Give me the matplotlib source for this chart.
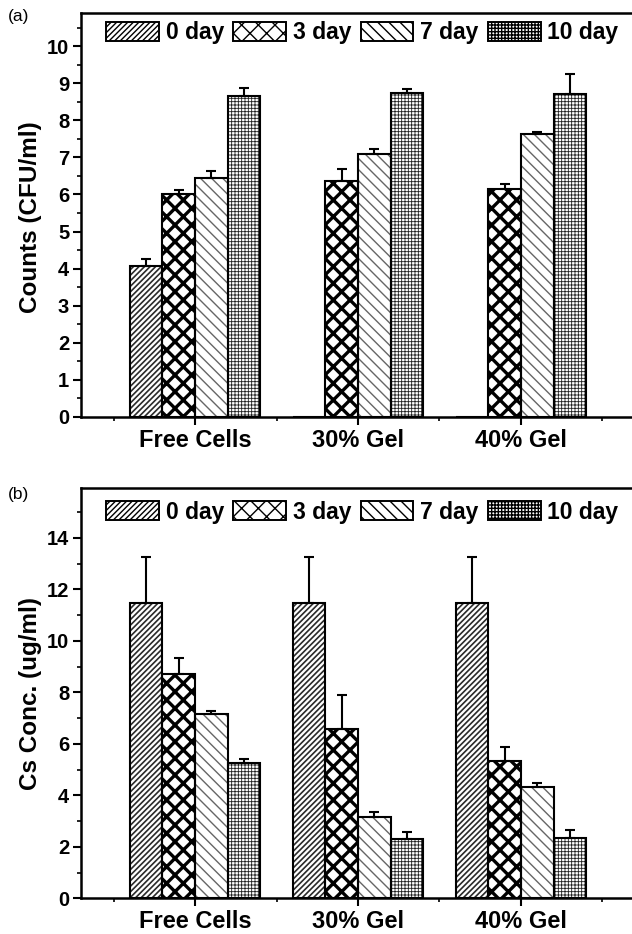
import numpy as np
import matplotlib
matplotlib.use("Agg")
import matplotlib.pyplot as plt
from matplotlib.ticker import MultipleLocator, FixedLocator
from matplotlib.patches import Rectangle

plt.rcParams['font.family'] = ['Liberation Sans', 'DejaVu Sans']

categories = ["Free Cells", "30% Gel", "40% Gel"]
series = ["0 day", "3 day", "7 day", "10 day"]

# Panel (a): Counts (CFU/ml)
counts_0 = [4.08, 0.0, 0.0]
counts_3 = [6.01, 6.37, 6.15]
counts_7 = [6.44, 7.09, 7.62]
counts_10 = [8.67, 8.75, 8.70]
counts_err_0 = [0.17, 0.0, 0.0]
counts_err_3 = [0.12, 0.32, 0.12]
counts_err_7 = [0.19, 0.14, 0.06]
counts_err_10 = [0.21, 0.11, 0.56]

# Panel (b): Cs Conc. (ug/ml)
cs_0 = [11.46, 11.46, 11.46]
cs_3 = [8.71, 6.59, 5.34]
cs_7 = [7.17, 3.17, 4.31]
cs_10 = [5.27, 2.29, 2.34]
cs_err_0 = [1.78, 1.78, 1.78]
cs_err_3 = [0.62, 1.31, 0.55]
cs_err_7 = [0.10, 0.18, 0.18]
cs_err_10 = [0.14, 0.30, 0.30]

hatches = ['//////', 'xx', '\\\\\\', '+++++']
hatch_colors = ['#2a2a2a', '#000000', '#666666', '#222222']
hatch_lw = [1.2, 2.4, 1.0, 0.6]

W, H = 632, 934
fig = plt.figure(figsize=(W / 100, H / 100), dpi=100)


def hatched_rect(i):
    with plt.rc_context({'hatch.linewidth': hatch_lw[i], 'hatch.color': hatch_colors[i]}):
        r = Rectangle((0, 0), 1, 1, facecolor='white', edgecolor='black',
                      hatch=hatches[i], linewidth=1.4)
        try:
            r.set_hatch_linewidth(hatch_lw[i])
        except Exception:
            pass
        try:
            r.set_hatchcolor(hatch_colors[i])
        except Exception:
            pass
    return r


def make_panel(rect, vals, errs, ylim, major, minor, ylabel, label, label_y, ylabel_y, leg_y):
    ax = fig.add_axes(rect)
    x = np.arange(len(categories))
    bw = 0.2
    offsets = [-0.3, -0.1, 0.1, 0.3]
    for i in range(4):
        h = np.array(vals[i], dtype=float)
        e = np.array(errs[i], dtype=float)
        with plt.rc_context({'hatch.linewidth': hatch_lw[i], 'hatch.color': hatch_colors[i]}):
            bars = ax.bar(x + offsets[i], h, bw, color='white', edgecolor=hatch_colors[i],
                          hatch=hatches[i], linewidth=0, zorder=2)
            for b in bars:
                try:
                    b.set_hatch_linewidth(hatch_lw[i])
                except Exception:
                    pass
        ax.bar(x + offsets[i], h, bw, color='none', edgecolor='black', linewidth=1.5, zorder=3)
        mask = h > 0
        ax.errorbar((x + offsets[i])[mask], h[mask], yerr=[np.zeros(mask.sum()), e[mask]],
                    fmt='none', ecolor='black', elinewidth=1.5, capsize=3.5, capthick=1.5, zorder=4)
    ax.set_xlim(-0.7, 2.7)
    ax.set_ylim(*ylim)
    ax.yaxis.set_major_locator(MultipleLocator(major))
    ax.yaxis.set_minor_locator(MultipleLocator(minor))
    ax.xaxis.set_major_locator(FixedLocator(x))
    ax.xaxis.set_minor_locator(FixedLocator([-0.5, 0.5, 1.5, 2.5]))
    ax.set_xticklabels(categories, fontsize=17, fontweight='bold')
    for t in ax.get_yticklabels():
        t.set_fontsize(14.5)
        t.set_fontweight('bold')
    ax.tick_params(axis='both', which='major', length=6, width=1.5, direction='out', pad=2.5)
    ax.tick_params(axis='both', which='minor', length=3, width=1.2, direction='out')
    ax.tick_params(top=False, right=False, which='both')
    for s in ax.spines.values():
        s.set_linewidth(1.8)
    fig.text(30 / W, 1 - ylabel_y / H, ylabel, fontsize=17.5, fontweight='bold',
             rotation=90, ha='center', va='center')
    handles = [hatched_rect(i) for i in range(4)]
    fig.legend(handles, series, loc='center left', bbox_to_anchor=(104 / W, 1 - leg_y / H),
               bbox_transform=fig.transFigure, ncol=4, frameon=False,
               prop={'weight': 'bold', 'size': 16.5},
               handlelength=2.3, handleheight=0.9, handletextpad=0.3,
               columnspacing=0.4, borderpad=0.1, borderaxespad=0)
    fig.text(8 / W, 1 - label_y / H, label, fontsize=12.5, ha='left', va='center')
    return ax


ax1 = make_panel([81 / W, 1 - 416.7 / H, 554 / W, (416.7 - 13) / H],
                 [counts_0, counts_3, counts_7, counts_10],
                 [counts_err_0, counts_err_3, counts_err_7, counts_err_10],
                 (0, 10.9), 1, 0.5, 'Counts (CFU/ml)', '(a)', 17, 217, 33)
ax2 = make_panel([81 / W, 1 - 898.3 / H, 554 / W, (898.3 - 488.3) / H],
                 [cs_0, cs_3, cs_7, cs_10],
                 [cs_err_0, cs_err_3, cs_err_7, cs_err_10],
                 (0, 15.92), 2, 1, 'Cs Conc. (ug/ml)', '(b)', 494, 693, 512)

fig.savefig('out.png', dpi=100)
